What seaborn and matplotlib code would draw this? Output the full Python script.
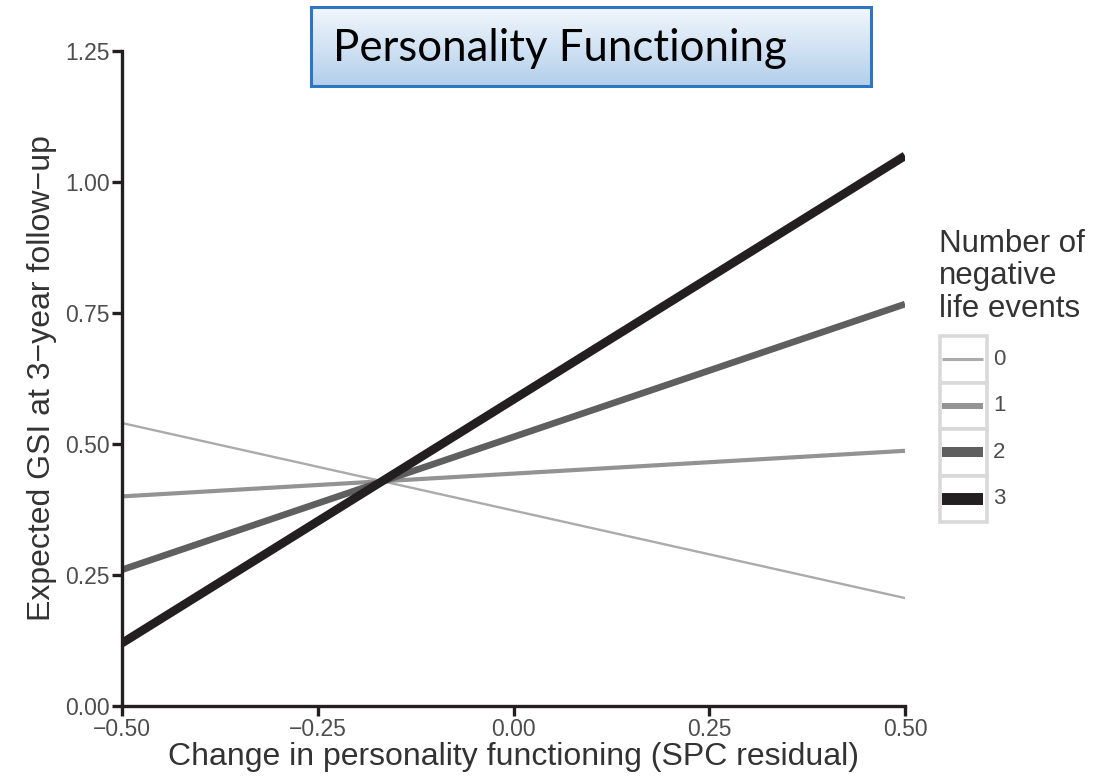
import numpy as np
import pandas as pd
import matplotlib
matplotlib.use("Agg")
import matplotlib.pyplot as plt
from matplotlib.patches import Rectangle
import seaborn as sns

# Predicted GSI at the two ends of the change-in-personality-functioning range
events = ["0", "1", "2", "3"]
spc_range = [-0.50, 0.50]
gsi_at_low = [0.54, 0.40, 0.26, 0.12]
gsi_at_high = [0.206, 0.487, 0.767, 1.05]

line_colors = ["#ababab", "#939393", "#5f5f5f", "#231f20"]
line_widths = [1.7, 3.0, 4.8, 6.2]
key_widths = [2.2, 4.3, 7.2, 8.6]

x_ticks = [-0.50, -0.25, 0.00, 0.25, 0.50]
y_ticks = [0.00, 0.25, 0.50, 0.75, 1.00, 1.25]

rows = []
for ev, lo, hi in zip(events, gsi_at_low, gsi_at_high):
    rows.append({"events": ev, "spc": spc_range[0], "gsi": lo})
    rows.append({"events": ev, "spc": spc_range[1], "gsi": hi})
df = pd.DataFrame(rows)

sns.set_style("white")
plt.rcParams["font.family"] = ["Liberation Sans", "DejaVu Sans"]

W, H = 1094, 779
fig = plt.figure(figsize=(W / 100, H / 100), dpi=100)
fig.patch.set_facecolor("white")

def fx(px):
    return px / W

def fy(py):
    return 1 - py / H

# main panel
ax = fig.add_axes([fx(122), fy(706), fx(905) - fx(122), fy(51) - fy(706)])
sns.lineplot(data=df, x="spc", y="gsi", hue="events", size="events",
             palette=dict(zip(events, line_colors)),
             sizes=dict(zip(events, line_widths)),
             legend=False, ax=ax, solid_capstyle="butt")
ax.set_xlim(-0.5, 0.5)
ax.set_ylim(0, 1.25)
ax.set_xticks(x_ticks)
ax.set_yticks(y_ticks)
ax.set_xticklabels(["\u22120.50", "\u22120.25", "0.00", "0.25", "0.50"])
ax.set_yticklabels([f"{v:.2f}" for v in y_ticks])
for side in ["top", "right"]:
    ax.spines[side].set_visible(False)
for side in ["left", "bottom"]:
    ax.spines[side].set_color("#231f20")
    ax.spines[side].set_linewidth(2.4)
ax.tick_params(axis="both", direction="out", length=7, width=2.4,
               color="#231f20", labelsize=16.5, labelcolor="#4d4d4d", pad=2,
               bottom=True, left=True)
ax.set_xlabel("Change in personality functioning (SPC residual)",
              fontsize=23, color="#333333", labelpad=0)
ax.set_ylabel("Expected GSI at 3\u2212year follow\u2212up",
              fontsize=23, color="#333333", labelpad=6)
ax.patch.set_alpha(0)

# legend: title, framed keys and labels
fig.text(fx(939), fy(229), "Number of\nnegative\nlife events", fontsize=22.5,
         color="#333333", va="top", ha="left", linespacing=1.1)
leg = fig.add_axes([0, 0, 1, 1])
leg.set_xlim(0, W)
leg.set_ylim(H, 0)
leg.axis("off")
key_top = 336
key_h = 46.5
for i, (ev, c, lw) in enumerate(zip(events, line_colors, key_widths)):
    y0 = key_top + i * key_h
    leg.add_patch(Rectangle((940, y0), 47, key_h, facecolor="white",
                            edgecolor="#d9d9d9", linewidth=2.6))
    leg.plot([942, 983], [y0 + key_h / 2, y0 + key_h / 2], color=c,
             linewidth=lw, solid_capstyle="butt")
    leg.text(993, y0 + key_h / 2, ev, fontsize=16, color="#4d4d4d",
             va="center", ha="left")

# title banner with a vertical gradient fill
ban = fig.add_axes([fx(311), fy(86), fx(871) - fx(311), fy(7) - fy(86)])
grad = np.linspace(0, 1, 256).reshape(-1, 1)
top_c = np.array([0.95, 0.97, 0.99])
bot_c = np.array([0.70, 0.81, 0.92])
img = top_c + (bot_c - top_c) * grad[..., None]
ban.imshow(img, aspect="auto", extent=[0, 1, 0, 1], origin="upper")
ban.set_xlim(0, 1)
ban.set_ylim(0, 1)
ban.set_xticks([])
ban.set_yticks([])
for s in ban.spines.values():
    s.set_color("#2e75c4")
    s.set_linewidth(2.2)
ban.text(0.039, 0.47, "Personality Functioning", fontsize=31.5,
         family=["Lato", "DejaVu Sans"], color="black", va="center", ha="left",
         transform=ban.transAxes)

fig.savefig("out.png", dpi=100, facecolor="white")
